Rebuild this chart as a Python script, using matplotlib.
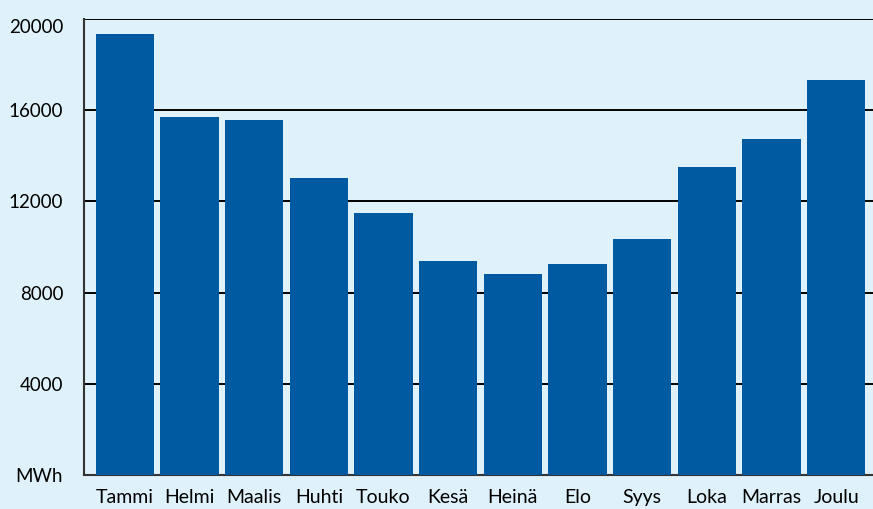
import matplotlib.pyplot as plt

months = ["Tammi", "Helmi", "Maalis", "Huhti", "Touko", "Kesä",
          "Heinä", "Elo", "Syys", "Loka", "Marras", "Joulu"]
mwh = [19350, 15720, 15550, 13010, 11480, 9390,
       8820, 9260, 10350, 13490, 14720, 17340]

y_ticks = [0, 4000, 8000, 12000, 16000, 20000]
y_labels = ["MWh", "4000", "8000", "12000", "16000", "20000"]

bg = "#dff1fb"
bar_col = "#005aa1"

plt.rcParams["font.family"] = ["Lato", "DejaVu Sans"]

fig = plt.figure(figsize=(8.73, 5.09), dpi=100)
fig.patch.set_facecolor(bg)
ax = fig.add_axes([84 / 873, 34 / 509, 1 - 84 / 873, (475 - 19) / 509])
ax.set_facecolor(bg)

x = list(range(len(months)))
ax.bar(x, mwh, width=0.9, color=bar_col, zorder=3)

ax.set_xlim(-0.633, 11.57)
ax.set_ylim(0, 20000)
ax.set_yticks(y_ticks)
ax.set_yticklabels(y_labels, fontsize=13.5)
ax.set_xticks(x)
ax.set_xticklabels(months, fontsize=14)
ax.tick_params(axis="y", length=0, pad=15)
ax.tick_params(axis="x", length=0, pad=10)

# top label sits a little below its line in the original
ax.get_yticklabels()[-1].set_va("top")
ax.get_yticklabels()[-1].set_y(20000)

ax.yaxis.grid(True, color="black", linewidth=1.4, zorder=1)
for s in ["top", "right"]:
    ax.spines[s].set_visible(False)
ax.spines["left"].set_color("#333333")
ax.spines["left"].set_linewidth(1.5)
ax.spines["bottom"].set_color("#333333")
ax.spines["bottom"].set_linewidth(1.5)

fig.savefig("out.png", dpi=100, facecolor=bg)
